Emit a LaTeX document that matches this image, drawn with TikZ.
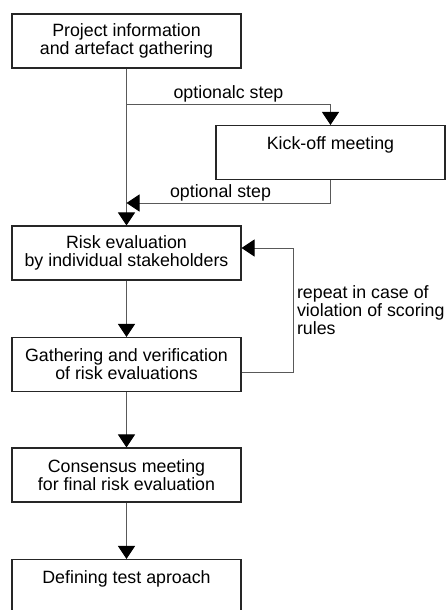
\documentclass[tikz,border=0pt]{standalone}
\usepackage{fontspec}
\setmainfont{Liberation Sans}
\usetikzlibrary{arrows.meta}

\begin{document}
\begin{tikzpicture}[x=1pt,y=-1pt]
	\tikzset{label/.style = {font=\fontsize{17.8}{18}\selectfont,align=center}}
	\tikzset{stage/.style = {label,shape=rectangle,draw=black!85,line width=1.1pt,
			minimum width=229pt,minimum height=54pt,inner sep=0pt}}
	\tikzset{flow/.style = {draw=black!65,line width=1pt,
			-{Triangle[width=17pt,length=13pt,black]}}}
	\clip (0,0) rectangle (447,610);
	\useasboundingbox (0,0) rectangle (447,610);
    % stages
    \node[stage] (info) at (126.5,41) {Project information\\and artefact gathering};
    \node[stage] (kick) at (330.5,152.5) {Kick-off meeting\\\mbox{}};
    \node[stage] (eval) at (126.5,253) {Risk evaluation\\by individual stakeholders};
    \node[stage] (verify) at (126.5,364.5) {Gathering and verification\\of risk evaluations};
    \node[stage] (consensus) at (126.5,475) {Consensus meeting\\for final risk evaluation};
    \node[stage] (approach) at (126.5,586.5) {Defining test aproach\\\mbox{}};
    \coordinate (split) at (126.5,104);
    \coordinate (join) at (126.5,203);
    % flows
	\draw[flow] (info) to (eval);
	\draw[flow] (split) -| node[label,above,pos=0.25,inner sep=1pt] {optionalc step} (kick);
	\draw[flow] (kick) |- node[label,above,pos=0.75,xshift=-8pt,inner sep=1pt] {optional step} (join);
	\draw[flow] (eval) to (verify);
	\draw[flow] ([yshift=-7.5pt]verify.east) -- ++(52,0)
		|- node[label,right,pos=0.25,align=left,inner sep=3pt] {repeat in case of\\violation of scoring\\rules} ([yshift=5pt]eval.east);
	\draw[flow] (verify) to (consensus);
	\draw[flow] (consensus) to (approach);
\end{tikzpicture}
\end{document}
